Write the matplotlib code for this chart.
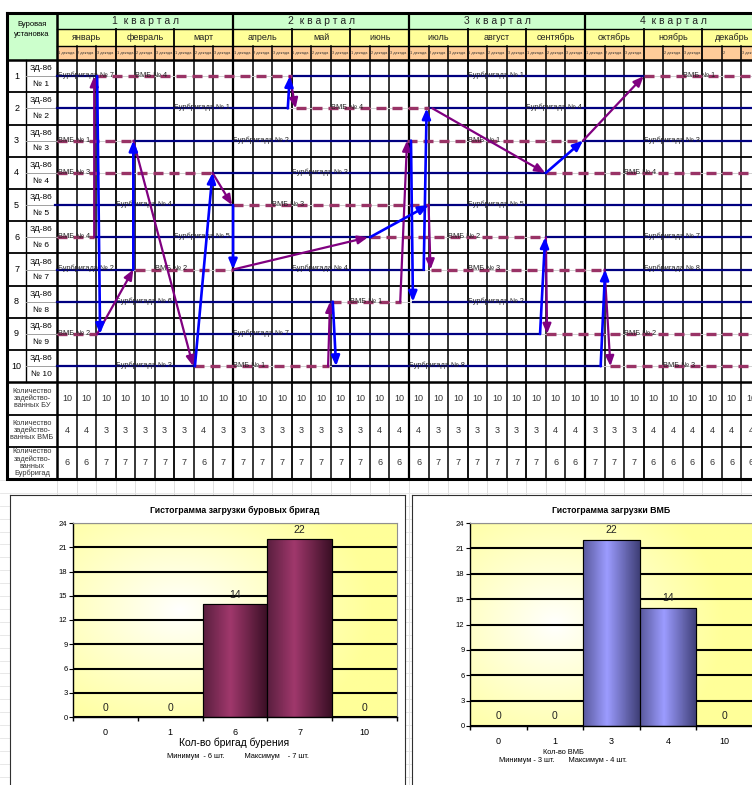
import numpy as np
import matplotlib
matplotlib.use('Agg')
import matplotlib.pyplot as plt
from matplotlib.patches import Rectangle
from matplotlib.colors import LinearSegmentedColormap

plt.rcParams['font.family'] = ['Liberation Sans', 'DejaVu Sans']

W, H = 752, 785

# ---- header data
quarters = ['1  к в а р т а л', '2  к в а р т а л', '3  к в а р т а л', '4  к в а р т а л']
months = ['январь', 'февраль', 'март', 'апрель', 'май', 'июнь',
          'июль', 'август', 'сентябрь', 'октябрь', 'ноябрь', 'декабрь']
decade_lbl = ['1 декада', '2 декада', '3 декада'] * 10 + ['', '2 декада', '3 декада', '', '2', '3 декада']
rig_names = ['ЗД-86'] * 10
rig_nums = ['№ 1', '№ 2', '№ 3', '№ 4', '№ 5', '№ 6', '№ 7', '№ 8', '№ 9', '№ 10']

# ---- drilling brigades (solid), time in decades from 1 Jan
brig_row = [1, 1, 2, 2, 3, 3, 4, 5, 5, 6, 6, 7, 7, 7, 8, 8, 9, 10, 10]
brig_start = [0, 12, 0, 18.9, 4, 26.9, 8, -0.1, 19, 2, 25, 0, 9, 28, 0, 18.2, 2.05, 0, 14.1]
brig_end = [2.05, 30, 11.8, 36, 17.9, 36, 25, 9, 36, 16, 36, 3.9, 18.75, 36, 14.1, 36, 24.7, 7, 27.8]
brig_name = ['Бурбригада № 7', 'Бурбригада № 1', 'Бурбригада № 1', 'Бурбригада № 4',
             'Бурбригада № 2', 'Бурбригада № 3', 'Бурбригада № 3', 'Бурбригада № 4',
             'Бурбригада № 5', 'Бурбригада № 5', 'Бурбригада № 7', 'Бурбригада № 2',
             'Бурбригада № 4', 'Бурбригада № 8', 'Бурбригада № 6', 'Бурбригада № 2',
             'Бурбригада № 7', 'Бурбригада № 3', 'Бурбригада № 8']
brig_lbl = [0.05, 21, 6, 24, 9, 30, 12, 3, 21, 6, 30, 0.05, 12, 30, 3, 21, 9, 3, 18]

# ---- ВМБ (dashed)
vmb_row = [1, 1, 2, 3, 3, 4, 4, 5, 6, 6, 7, 7, 8, 9, 9, 10, 10]
vmb_start = [2, 30, 12.2, 0, 17.9, 0, 25, 9, 0, 16, 4, 19.1, 14, 0, 25, 7, 28.3]
vmb_end = [12, 36, 19, 3.9, 26.9, 7.95, 36, 19, 1.9, 25, 9, 28, 17.6, 2.05, 36, 13.9, 36]
vmb_name = ['ВМБ № 4', 'ВМБ № 1', 'ВМБ № 4', 'ВМБ № 1', 'ВМБ № 1', 'ВМБ № 3', 'ВМБ № 4',
            'ВМБ № 3', 'ВМБ № 4', 'ВМБ № 2', 'ВМБ № 2', 'ВМБ № 3', 'ВМБ № 1', 'ВМБ № 2',
            'ВМБ № 2', 'ВМБ № 1', 'ВМБ № 3']
vmb_lbl = [4, 32, 14, 0.05, 21, 0.05, 29, 11, 0.05, 20, 5, 21, 15, 0.05, 29, 9, 31]

# ---- moves: (from decade, from row, to decade, to row)
brig_moves = [(2.05, 1, 2.2, 9), (3.9, 7, 3.9, 3), (7.05, 10, 7.95, 4), (9, 5, 9, 7),
              (16, 6, 19, 5), (11.8, 2, 11.9, 1), (14.1, 8, 14.27, 10), (18.1, 3, 18.2, 8),
              (18.75, 7, 18.9, 2), (25, 4, 26.9, 3), (24.7, 9, 24.96, 6), (27.8, 10, 28.03, 7)]
vmb_moves = [(1.9, 6, 1.9, 1), (2.05, 9, 3.9, 7), (3.9, 3, 6.96, 10), (7.95, 4, 8.95, 5),
             (9, 7, 15.9, 6), (11.9, 1, 12.2, 2), (13.86, 10, 13.96, 8), (17.55, 8, 17.9, 3),
             (19, 5, 19.1, 7), (19.2, 2, 24.96, 4), (26.9, 3, 30, 1), (25, 6, 25.06, 9),
             (28.0, 7, 28.3, 10)]

# ---- per-decade counts
bu_used = [10, 10, 10, 10, 10, 10, 10, 10, 10, 10, 10, 10, 10, 10, 10, 10, 10, 10,
           10, 10, 10, 10, 10, 10, 10, 10, 10, 10, 10, 10, 10, 10, 10, 10, 10, 10]
vmb_used = [4, 4, 3, 3, 3, 3, 3, 4, 3, 3, 3, 3, 3, 3, 3, 3, 4, 4,
            4, 3, 3, 3, 3, 3, 3, 4, 4, 3, 3, 3, 4, 4, 4, 4, 4, 4]
brig_used = [6, 6, 7, 7, 7, 7, 7, 6, 7, 7, 7, 7, 7, 7, 7, 7, 6, 6,
             6, 7, 7, 7, 7, 7, 7, 6, 6, 7, 7, 7, 6, 6, 6, 6, 6, 6]
count_lbl = ['Количество\nзадейство-\nванных БУ', 'Количество\nзадейство-\nванных ВМБ',
             'Количество\nзадейство-\nванных\nБурбригад']

# ---- histograms
hist1_cat = ['0', '1', '6', '7', '10']
hist1_val = [0, 0, 14, 22, 0]
hist2_cat = ['0', '1', '3', '4', '10']
hist2_val = [0, 0, 22, 14, 0]

NAVY = '#000080'
PLUM = '#993366'
ABLUE = '#0000FF'
APURP = '#800080'

fig = plt.figure(figsize=(W / 100, H / 100), dpi=100)

# spreadsheet background
bg = fig.add_axes([0, 0, 1, 1])
bg.set_xlim(0, W)
bg.set_ylim(H, 0)
bg.axis('off')
for k in range(37):
    bg.plot([57 + 19.55 * k] * 2, [480, H], color='#DADADA', lw=0.6)
for yy in np.arange(480, H, 12.9):
    bg.plot([0, W], [yy, yy], color='#E4E4E4', lw=0.6)

# ---- schedule table
ax = fig.add_axes([7 / W, 1 - 479 / H, 754 / W, 466 / H])
ax.set_xlim(-2.56, 36)
ax.set_ylim(13, -1.46)
ax.axis('off')

ax.add_patch(Rectangle((-2.56, -1.46), 2.56, 1.46, fc='#CCFFCC', ec='none'))
ax.text(-1.28, -0.95, 'Буровая\nустановка', ha='center', va='center', fontsize=5.5, linespacing=1.5)
for q, name in enumerate(quarters):
    ax.add_patch(Rectangle((q * 9, -1.46), 9, 0.5, fc='#CCFFCC', ec='none'))
    ax.text(q * 9 + 4.5, -1.22, name, ha='center', va='center', fontsize=7.5, color='#222222')
for m, name in enumerate(months):
    ax.add_patch(Rectangle((m * 3, -0.96), 3, 0.53, fc='#FFFF99', ec='none'))
    ax.text(m * 3 + 1.5, -0.69, name, ha='center', va='center', fontsize=6.5, color='#222222')
for d, name in enumerate(decade_lbl):
    r = Rectangle((d, -0.43), 1, 0.43, fc='#FFCC99', ec='none')
    ax.add_patch(r)
    t = ax.text(d + 0.04, -0.215, name, ha='left', va='center', fontsize=2.8, color='#333333')
    t.set_clip_path(r)

# grid lines
glw = 1.3
for yv in range(1, 13):
    ax.plot([-2.56, 36], [yv, yv], color='black', lw=glw if yv not in (10,) else 1.8)
ax.plot([-2.56, 36], [0, 0], color='black', lw=1.8)
ax.plot([0, 36], [-0.96, -0.96], color='black', lw=1.0)
ax.plot([0, 36], [-0.43, -0.43], color='black', lw=1.0)
for d in range(1, 36):
    if d % 9 == 0:
        ax.plot([d, d], [-1.46, 13], color='black', lw=1.6)
    elif d % 3 == 0:
        ax.plot([d, d], [-0.96, 13], color='black', lw=1.3)
    else:
        ax.plot([d, d], [-0.43, 13], color='black', lw=1.1)
ax.plot([0, 0], [-1.46, 13], color='black', lw=1.8)
ax.plot([-1.59, -1.59], [0, 10], color='black', lw=1.0)
ax.plot([-2.56, 36, 36, -2.56, -2.56], [-1.46, -1.46, 13, 13, -1.46], color='black', lw=2.2,
        solid_joinstyle='miter', clip_on=False)

# row labels and mid lines
for i in range(10):
    yc = i + 0.5
    ax.plot([-1.59, 0], [yc, yc], color='#A0A0A0', lw=0.7)
    ax.plot([0, 36], [yc, yc], color='#D0D0D0', lw=0.7)
    ax.text(-2.07, yc, str(i + 1), ha='center', va='center', fontsize=6.5)
    ax.text(-0.8, i + 0.27, rig_names[i], ha='center', va='center', fontsize=6)
    ax.text(-0.8, i + 0.76, rig_nums[i], ha='center', va='center', fontsize=6)

# count rows
for j, vals in enumerate([bu_used, vmb_used, brig_used]):
    ax.text(-1.28, 10.5 + j, count_lbl[j], ha='center', va='center', fontsize=5.3,
            linespacing=1.0, color='#333333')
    for d, v in enumerate(vals):
        ax.text(d + 0.5, 10.5 + j, str(v), ha='center', va='center', fontsize=6.5, color='#333333')

# schedule bars
for r, s, e, n, lx in zip(brig_row, brig_start, brig_end, brig_name, brig_lbl):
    ax.plot([s, e], [r - 0.5, r - 0.5], color=NAVY, lw=1.6, zorder=3)
    ax.text(lx, r - 0.5 + 0.03, n, fontsize=5.3, color='#222222', va='baseline', ha='left', zorder=4)
for r, s, e, n, lx in zip(vmb_row, vmb_start, vmb_end, vmb_name, vmb_lbl):
    ax.plot([s, e], [r - 0.5, r - 0.5], color=PLUM, lw=2.4, ls=(0, (3.0, 1.8)), zorder=3)
    ax.text(lx, r - 0.5 + 0.03, n, fontsize=5.3, color='#222222', va='baseline', ha='left', zorder=4)

for moves, col, lw in [(vmb_moves, APURP, 1.6), (brig_moves, ABLUE, 1.9)]:
    for x0, r0, x1, r1 in moves:
        ax.annotate('', xy=(x1, r1 - 0.5), xytext=(x0, r0 - 0.5),
                    arrowprops=dict(arrowstyle='-|>,head_length=0.6,head_width=0.25', color=col,
                                    lw=lw, shrinkA=0, shrinkB=0), zorder=5)


# ---- histograms
def frame(x0, y0, x1, y1):
    f = fig.add_axes([x0 / W, 1 - y1 / H, (x1 - x0) / W, (y1 - y0) / H])
    f.set_xticks([])
    f.set_yticks([])
    for s in f.spines.values():
        s.set_color('#303030')
        s.set_linewidth(0.8)
    return f


def yellow_bg(a, cx, cy):
    yy, xx = np.mgrid[0:1:200j, 0:1:200j]
    dist = np.sqrt(((xx - cx) / 0.6) ** 2 + ((yy - cy) / 0.75) ** 2)
    t = np.clip(dist, 0, 1)[..., None] ** 0.9
    img = np.array([1, 1, 1]) * (1 - t) + np.array([1, 1, 0.6]) * t
    a.imshow(img, extent=[-0.5, 4.5, 0, 24], origin='lower', aspect='auto', zorder=0)


def histogram(a, cats, vals, dark, light, darker, title, cx, cy):
    yellow_bg(a, cx, cy)
    a.set_yticks(range(0, 25, 3))
    a.yaxis.grid(True, color='black', lw=1.5, zorder=1)
    bars = a.bar(range(len(cats)), vals, width=1.0, color=light, edgecolor='black', lw=0.8, zorder=2)
    cmap = LinearSegmentedColormap.from_list('g', [(0, dark), (0.42, light), (1, darker)])
    prof = np.linspace(0, 1, 64).reshape(1, -1)
    for b in bars:
        if b.get_height() > 0:
            im = a.imshow(prof, cmap=cmap, extent=[b.get_x(), b.get_x() + b.get_width(), 0, b.get_height()],
                          aspect='auto', zorder=2.5)
            im.set_clip_path(b)
            a.add_patch(Rectangle((b.get_x(), 0), b.get_width(), b.get_height(), fc='none',
                                  ec='black', lw=0.8, zorder=3))
    for i, v in enumerate(vals):
        a.text(i, v + 1.15, str(v), ha='center', va='center', fontsize=7.5, color='#222222', zorder=4)
    a.set_xlim(-0.5, 4.5)
    a.set_ylim(0, 24)
    a.set_xticks(np.arange(-0.5, 5, 1))
    a.set_xticklabels([])
    a.set_xticks(range(len(cats)), minor=True)
    a.set_xticklabels(cats, minor=True, fontsize=6.5)
    a.tick_params(axis='x', which='major', length=3, width=1)
    a.tick_params(axis='x', which='minor', length=0, pad=8)
    a.tick_params(axis='y', length=3, width=0.8, labelsize=5.5, pad=1)
    a.spines['top'].set_color('#909090')
    a.spines['right'].set_color('#909090')
    a.spines['left'].set_linewidth(1.0)
    a.spines['bottom'].set_linewidth(1.0)
    a.set_title(title, fontsize=6.3, fontweight='bold', pad=7)


frame(10, 495, 405, 800)
frame(412, 495, 770, 800)

h1 = fig.add_axes([73 / W, 1 - 717 / H, 324 / W, 194 / H])
histogram(h1, hist1_cat, hist1_val, '#5A1F3F', '#A0386C', '#3A0F25',
          'Гистограмма загрузки буровых бригад', 0.33, 0.55)
fig.text(234 / W, 1 - 743 / H, 'Кол-во бригад бурения', ha='center', va='center', fontsize=7.5)
fig.text(238 / W, 1 - 757 / H, 'Минимум  - 6 шт.          Максимум    - 7 шт.', ha='center',
         va='center', fontsize=5.3)

h2 = fig.add_axes([470 / W, 1 - 726 / H, 283 / W, 203 / H])
histogram(h2, hist2_cat, hist2_val, '#5A5A9E', '#9C9CFF', '#3F3F77',
          'Гистограмма загрузки ВМБ', 0.3, 0.5)
fig.text(563 / W, 1 - 753 / H, 'Кол-во ВМБ', ha='center', va='center', fontsize=5.3)
fig.text(563 / W, 1 - 761 / H, 'Минимум - 3 шт.       Максимум - 4 шт.', ha='center',
         va='center', fontsize=5.3)

fig.savefig('out.png', dpi=100)
